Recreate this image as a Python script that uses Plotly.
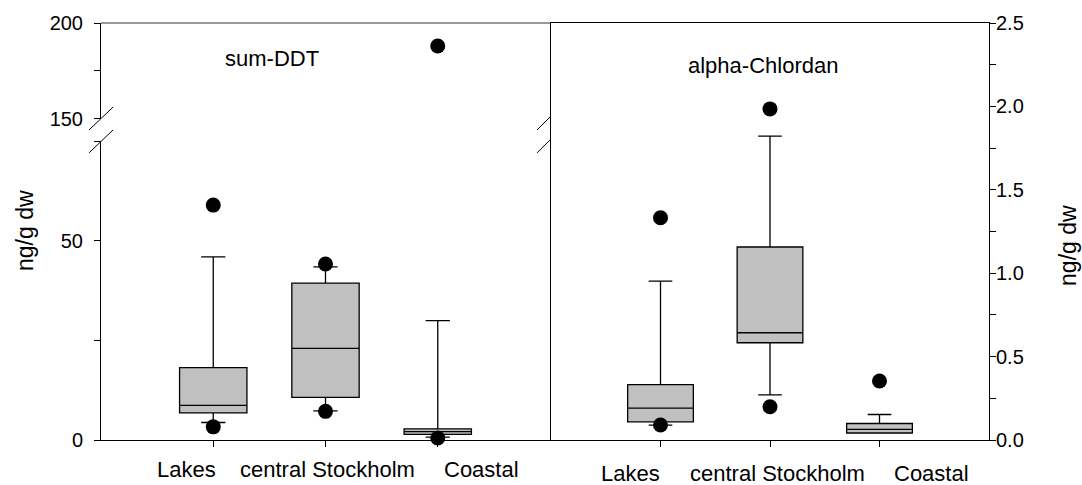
import plotly.graph_objects as go

# ---- data -------------------------------------------------------------
categories = ["Lakes", "central Stockholm", "Coastal"]
cat_pos = [1, 2, 3]

# sum-DDT (ng/g dw): box statistics per site type
ddt_lowerfence = [4.4, 7.3, 0.7]
ddt_q1 = [6.8, 10.7, 1.4]
ddt_median = [8.7, 23.0, 2.1]
ddt_q3 = [18.2, 39.4, 2.8]
ddt_upperfence = [46.0, 43.5, 30.0]
ddt_out_x = [1, 1, 2, 2, 3]
ddt_out_y = [3.3, 59.0, 7.2, 44.2, 0.5]
ddt_far_x = [3]
ddt_far_y = [188.0]

# alpha-Chlordan (ng/g dw)
chl_lowerfence = [0.089, 0.270, 0.042]
chl_q1 = [0.109, 0.583, 0.042]
chl_median = [0.191, 0.643, 0.064]
chl_q3 = [0.332, 1.157, 0.099]
chl_upperfence = [0.953, 1.822, 0.153]
chl_out_x = [1, 1, 2, 2, 3]
chl_out_y = [0.090, 1.332, 0.199, 1.985, 0.354]

# ---- geometry ---------------------------------------------------------
W, H = 1082, 485
ML, MR, MT, MB = 101, 93, 21, 45
PW, PH = W - ML - MR, H - MT - MB
Y0 = H - MB  # pixel row of the bottom axis


def px(x):
    return (x - ML) / PW


def py(y):
    return (Y0 - y) / PH


FONT = "Liberation Sans, Arial, sans-serif"
BOX_FILL = "#c0c0c0"

fig = go.Figure()

box_style = dict(
    fillcolor=BOX_FILL,
    line=dict(color="black", width=1.3),
    width=0.6,
    whiskerwidth=0.36,
    boxpoints=False,
    showlegend=False,
    hoverinfo="skip",
)
dot_style = dict(
    mode="markers",
    marker=dict(color="black", size=15),
    showlegend=False,
    cliponaxis=False,
    hoverinfo="skip",
)

# left panel: sum-DDT
fig.add_trace(go.Box(x=cat_pos, q1=ddt_q1, median=ddt_median, q3=ddt_q3,
                     lowerfence=ddt_lowerfence, upperfence=ddt_upperfence,
                     xaxis="x", yaxis="y", **box_style))
fig.add_trace(go.Scatter(x=ddt_out_x, y=ddt_out_y, xaxis="x", yaxis="y", **dot_style))
fig.add_trace(go.Scatter(x=ddt_far_x, y=ddt_far_y, xaxis="x", yaxis="y2", **dot_style))

# right panel: alpha-Chlordan
fig.add_trace(go.Box(x=cat_pos, q1=chl_q1, median=chl_median, q3=chl_q3,
                     lowerfence=chl_lowerfence, upperfence=chl_upperfence,
                     xaxis="x2", yaxis="y3", **box_style))
fig.add_trace(go.Scatter(x=chl_out_x, y=chl_out_y, xaxis="x2", yaxis="y3", **dot_style))

# ---- axes -------------------------------------------------------------
split_x = 550
low_top, up_bot = 140, 117  # pixel rows where the broken axis ends / resumes

axis_common = dict(
    showline=True, linecolor="black", linewidth=1, showgrid=False,
    zeroline=False, ticks="outside", ticklen=6, tickcolor="black",
    tickfont=dict(family=FONT, size=20, color="black"),
)
minor_common = dict(ticks="outside", ticklen=6, tickcolor="black")

fig.update_layout(
    width=W, height=H,
    margin=dict(l=ML, r=MR, t=MT, b=MB),
    paper_bgcolor="white", plot_bgcolor="white",
    xaxis=dict(domain=[0, px(split_x)], range=[0, 4], anchor="y",
               tickvals=cat_pos, showticklabels=False, **axis_common),
    yaxis=dict(domain=[0, py(low_top)], range=[0, 75], anchor="x",
               tickvals=[0, 50], mirror=True, ticklabelstandoff=7,
               minor=dict(tickvals=[25, 75], **minor_common),
               **axis_common),
    yaxis2=dict(domain=[py(up_bot), 1], range=[150, 200], anchor="x",
                tickvals=[150, 200], mirror=True, ticklabelstandoff=7,
                minor=dict(tickvals=[175], **minor_common),
                **axis_common),
    xaxis2=dict(domain=[px(split_x + 1), 1], range=[0, 4], anchor="y3",
                tickvals=cat_pos, showticklabels=False, mirror=True,
                **axis_common),
    yaxis3=dict(domain=[0, 1], range=[0, 2.5], anchor="x2", side="right",
                tickvals=[0, 0.5, 1.0, 1.5, 2.0, 2.5], tickformat=".1f",
                mirror=True, ticklabelstandoff=-4,
                minor=dict(tickvals=[0.25, 0.75, 1.25, 1.75, 2.25],
                           **minor_common),
                **axis_common),
)

# top edge of the left panel and the axis-break slashes
shapes = [
    dict(type="line", xref="x domain", yref="y2 domain",
         x0=0, x1=1, y0=1, y1=1, line=dict(color="#333", width=1)),
]
for yy in (up_bot, low_top):
    shapes.append(dict(type="line", xref="paper", yref="paper",
                       x0=px(ML - 12), x1=px(ML + 12),
                       y0=py(yy + 11.5), y1=py(yy - 11.5),
                       line=dict(color="black", width=1)))
    shapes.append(dict(type="line", xref="paper", yref="paper",
                       x0=px(split_x - 13), x1=px(split_x),
                       y0=py(yy + 11.5), y1=py(yy - 1.5),
                       line=dict(color="black", width=1)))
fig.update_layout(shapes=shapes)

# ---- text -------------------------------------------------------------
annotations = []
label_font = dict(family=FONT, size=22, color="black")
left_label_x = [186, 327, 481]
right_label_x = [630, 777, 931]
for name, lx in zip(categories, left_label_x):
    annotations.append(dict(text=name, xref="paper", yref="paper",
                            x=px(lx), y=py(470), xanchor="center",
                            yanchor="middle", showarrow=False, font=label_font))
for name, lx in zip(categories, right_label_x):
    annotations.append(dict(text=name, xref="paper", yref="paper",
                            x=px(lx), y=py(474), xanchor="center",
                            yanchor="middle", showarrow=False, font=label_font))

axis_title_font = dict(family=FONT, size=23, color="black")
annotations += [
    dict(text="sum-DDT", xref="paper", yref="paper", x=px(272), y=py(57),
         xanchor="center", yanchor="middle", showarrow=False, font=label_font),
    dict(text="alpha-Chlordan", xref="paper", yref="paper", x=px(686), y=py(64),
         xanchor="left", yanchor="middle", showarrow=False, font=label_font),
    dict(text="ng/g dw", xref="paper", yref="paper", x=px(25), y=py(230),
         xanchor="center", yanchor="middle", textangle=-90, showarrow=False,
         font=axis_title_font),
    dict(text="ng/g dw", xref="paper", yref="paper", x=px(1068), y=py(245),
         xanchor="center", yanchor="middle", textangle=-90, showarrow=False,
         font=axis_title_font),
]
fig.update_layout(annotations=annotations)

fig.write_html("out.html")
